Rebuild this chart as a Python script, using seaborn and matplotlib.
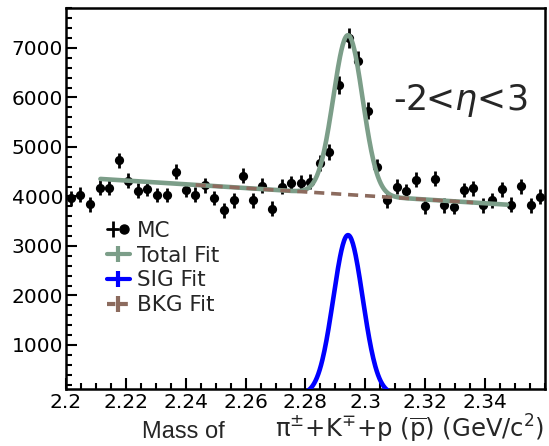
import numpy as np
import pandas as pd
import matplotlib
matplotlib.use("Agg")
import matplotlib.pyplot as plt
import seaborn as sns
from matplotlib.lines import Line2D
from matplotlib.legend_handler import HandlerTuple
from matplotlib.ticker import MultipleLocator

# ---------------- data ----------------
x_min, x_max, n_bins = 2.2, 2.36, 50
mc_counts = [3960, 4040, 3840, 4180, 4180, 4730, 4320, 4115, 4160, 4030,
             4030, 4500, 4130, 4040, 4230, 3970, 3720, 3925, 4420, 3925,
             4220, 3755, 4200, 4265, 4280, 4300, 4675, 4900, 6250, 7200,
             6740, 5735, 4600, 3925, 4200, 4110, 4335, 3800, 4355, 3820,
             3790, 4130, 4165, 3820, 3925, 4145, 3835, 4210, 3820, 3995]
mc_errors = [150, 150, 150, 150, 150, 155, 150, 150, 150, 150,
             150, 155, 150, 150, 150, 150, 150, 150, 155, 150,
             150, 150, 150, 150, 150, 150, 155, 160, 180, 195,
             190, 175, 155, 150, 150, 150, 150, 150, 150, 150,
             150, 150, 150, 150, 150, 150, 150, 150, 150, 150]

# fit parameters (Gaussian signal + linear background)
sig_amp, sig_mean, sig_sigma = 3220.0, 2.2942, 0.0049
bkg_ref_x, bkg_ref_y, bkg_slope = 2.2115, 4355.0, -3830.0
fit_lo, fit_hi = 2.2115, 2.3473
bkg_draw_lo, bkg_draw_hi = 2.2433, 2.3360

x_ticks = [2.2, 2.22, 2.24, 2.26, 2.28, 2.3, 2.32, 2.34]
x_tick_labels = ["2.2", "2.22", "2.24", "2.26", "2.28", "2.3", "2.32", "2.34"]
y_ticks = [1000, 2000, 3000, 4000, 5000, 6000, 7000]
y_min, y_max = 111, 7808

# ---------------- style ----------------
sns.set_theme(style="ticks")
plt.rcParams["font.family"] = ["DejaVu Sans"]
plt.rcParams["mathtext.fontset"] = "dejavusans"

W, H = 549, 446
fig = plt.figure(figsize=(W / 100, H / 100), dpi=100)
ax = fig.add_axes([66 / W, 1 - 389 / H, (545 - 66) / W, (389 - 8) / H])

edges = np.linspace(x_min, x_max, n_bins + 1)
centers = 0.5 * (edges[:-1] + edges[1:])
df = pd.DataFrame({"mass": centers, "counts": mc_counts, "err": mc_errors})

# fit curves
xf = np.linspace(fit_lo, fit_hi, 600)
sig_f = sig_amp * np.exp(-0.5 * ((xf - sig_mean) / sig_sigma) ** 2)
bkg_f = bkg_ref_y + bkg_slope * (xf - bkg_ref_x)
tot_f = sig_f + bkg_f
xb = np.linspace(bkg_draw_lo, bkg_draw_hi, 200)
bkg_b = bkg_ref_y + bkg_slope * (xb - bkg_ref_x)

total_col = "#7c9e89"
sig_col = "#0000ff"
bkg_col = "#8c6b5e"

# data points with error bars
ax.errorbar(df["mass"], df["counts"], yerr=df["err"], fmt="none",
            ecolor="black", elinewidth=2.0, capsize=0, zorder=3)
sns.scatterplot(data=df, x="mass", y="counts", ax=ax, color="black",
                s=44, edgecolor="black", linewidth=0, zorder=4, legend=False)

sns.lineplot(x=xf, y=tot_f, ax=ax, color=total_col, lw=3.3, zorder=5,
             sort=False, estimator=None)
sns.lineplot(x=xb, y=bkg_b, ax=ax, color=bkg_col, lw=2.6, zorder=6,
             sort=False, estimator=None)
ax.lines[-1].set_dashes([2.8, 1.9])
sns.lineplot(x=xf, y=sig_f, ax=ax, color=sig_col, lw=3.3, zorder=5,
             sort=False, estimator=None)

ax.set_xlim(x_min, x_max)
ax.set_ylim(y_min, y_max)
ax.set_xticks(x_ticks)
ax.set_xticklabels(x_tick_labels)
ax.set_yticks(y_ticks)
ax.xaxis.set_minor_locator(MultipleLocator(0.005))
ax.yaxis.set_minor_locator(MultipleLocator(200))
ax.tick_params(axis="both", which="major", direction="in", length=8,
               width=1.5, labelsize=14.5, colors="black", pad=3)
ax.tick_params(axis="y", which="major", pad=2)
ax.tick_params(axis="both", which="minor", direction="in", length=4,
               width=1.5, colors="black")
ax.tick_params(top=False, right=False, which="both")
for sp in ax.spines.values():
    sp.set_linewidth(1.8)
    sp.set_color("black")
ax.set_xlabel("")
ax.set_ylabel("")

# axis title (two pieces, as in the original)
base_y = 1 - 438 / H
fig.text(142 / W, base_y, "Mass of", fontsize=17, ha="left", va="baseline",
         family=["Liberation Sans", "DejaVu Sans"])
fig.text(544 / W, base_y,
         r"$\mathrm{\pi}^{\pm}\mathrm{+K}^{\mp}\mathrm{+p\ (\overline{p})\ (GeV/c}^{2}\mathrm{)}$",
         fontsize=17.5, ha="right", va="baseline")

ax.text(0.824, 0.758, r"-2<$\eta$<3", transform=ax.transAxes,
        fontsize=25, ha="center", va="center")

mc_handle = (Line2D([], [], color="black", lw=2, marker="|", markersize=12, mew=2),
             Line2D([], [], color="black", ls="none", marker="o", markersize=6.5))
handles = [
    mc_handle,
    Line2D([], [], color=total_col, lw=3, marker="|", markersize=11, mew=3),
    Line2D([], [], color=sig_col, lw=3, marker="|", markersize=11, mew=3),
    Line2D([], [], color=bkg_col, lw=3, marker="|", markersize=11, mew=3,
           linestyle=(0, (2, 1))),
]
labels = ["MC", "Total Fit", "SIG Fit", "BKG Fit"]
fig.legend(handles, labels, loc="upper left",
           bbox_to_anchor=(107 / W, 1 - 221 / H), frameon=False,
           fontsize=15.5, handlelength=1.05, handletextpad=0.35,
           labelspacing=0.22, borderaxespad=0, borderpad=0,
           handler_map={tuple: HandlerTuple(ndivide=None, pad=0)})

fig.savefig("out.png", dpi=100)
